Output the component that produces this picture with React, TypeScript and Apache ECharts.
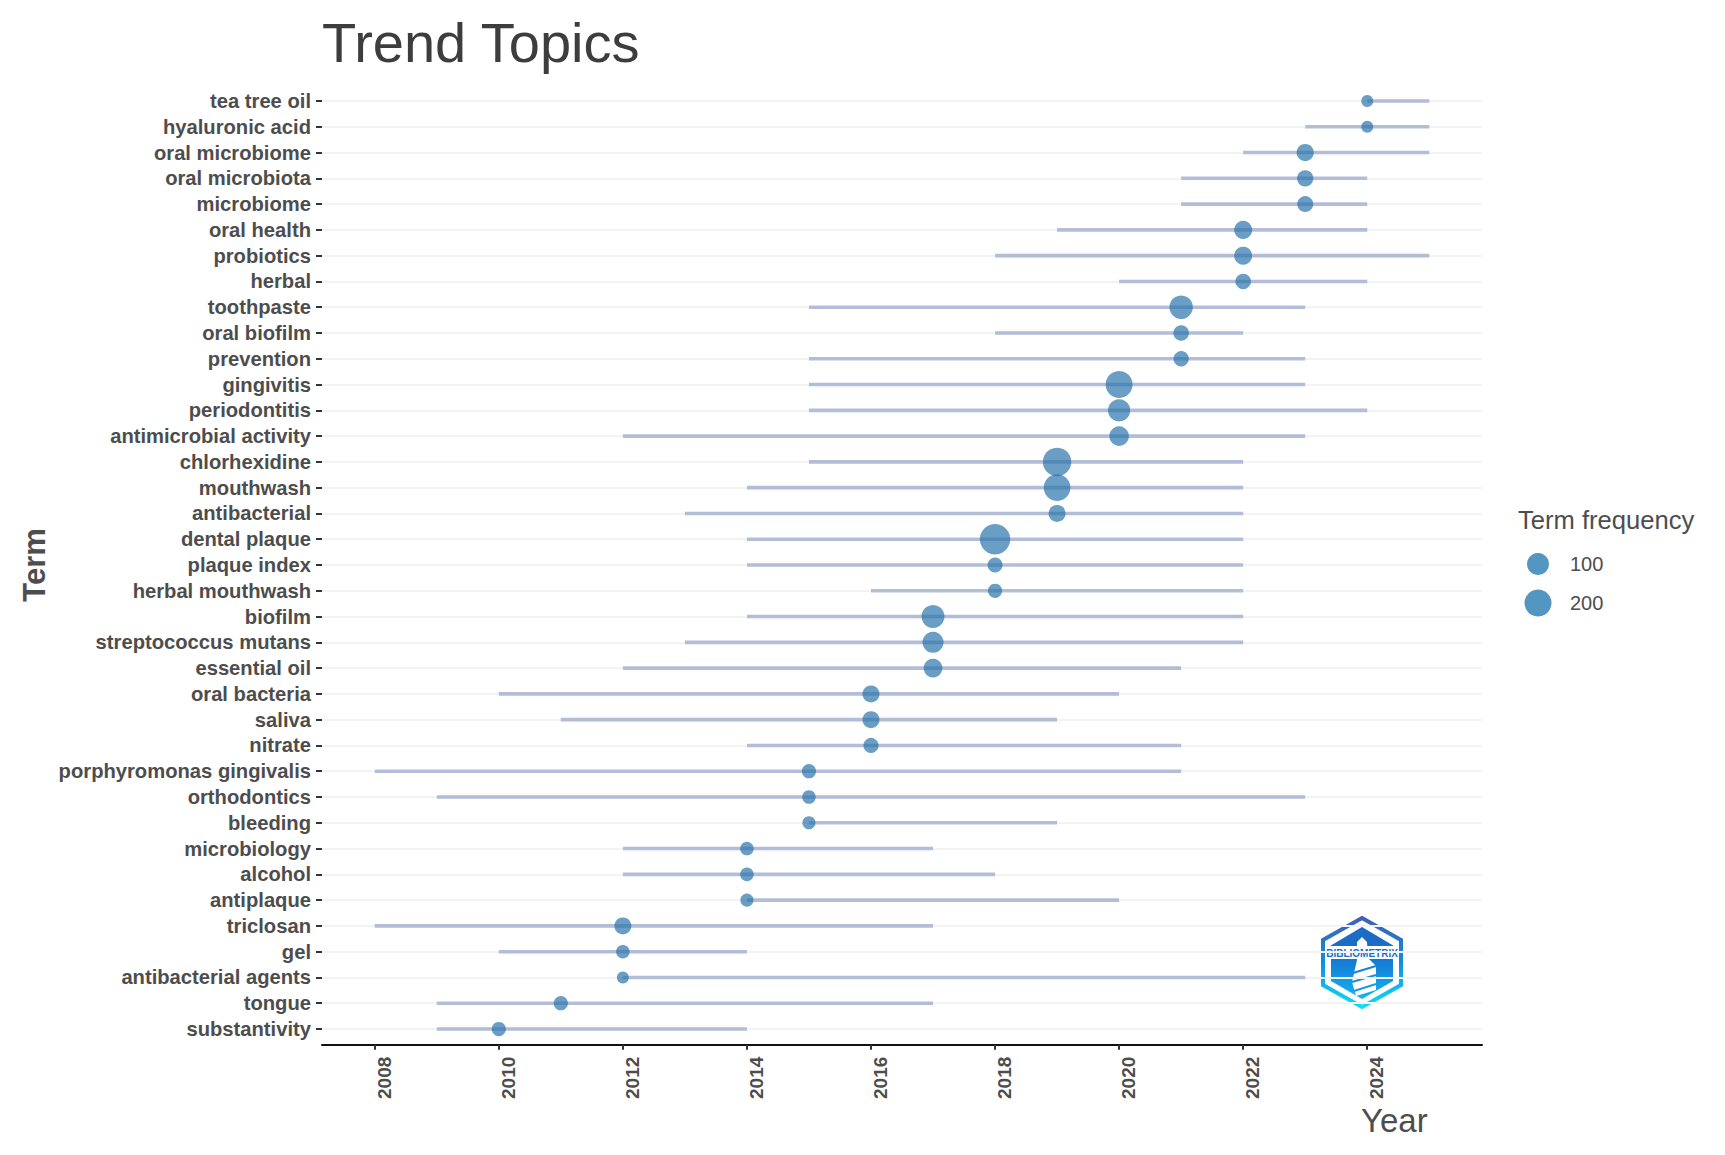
import React, { useEffect, useRef } from "react";
import * as echarts from "echarts";

const terms = ["tea tree oil","hyaluronic acid","oral microbiome","oral microbiota","microbiome","oral health","probiotics","herbal","toothpaste","oral biofilm","prevention","gingivitis","periodontitis","antimicrobial activity","chlorhexidine","mouthwash","antibacterial","dental plaque","plaque index","herbal mouthwash","biofilm","streptococcus mutans","essential oil","oral bacteria","saliva","nitrate","porphyromonas gingivalis","orthodontics","bleeding","microbiology","alcohol","antiplaque","triclosan","gel","antibacterial agents","tongue","substantivity"];
const yearStart = [2024,2023,2022,2021,2021,2019,2018,2020,2015,2018,2015,2015,2015,2012,2015,2014,2013,2014,2014,2016,2014,2013,2012,2010,2011,2014,2008,2009,2015,2012,2012,2014,2008,2010,2012,2009,2009];
const yearEnd = [2025,2025,2025,2024,2024,2024,2025,2024,2023,2022,2023,2023,2024,2023,2022,2022,2022,2022,2022,2022,2022,2022,2021,2020,2019,2021,2021,2023,2019,2017,2018,2020,2017,2014,2023,2017,2014];
const yearMedian = [2024,2024,2023,2023,2023,2022,2022,2022,2021,2021,2021,2020,2020,2020,2019,2019,2019,2018,2018,2018,2017,2017,2017,2016,2016,2016,2015,2015,2015,2014,2014,2014,2012,2012,2012,2011,2010];
const frequency = [20,20,42,35,33,49,49,30,126,30,29,200,105,66,238,195,40,294,27,24,117,85,57,40,40,28,24,22,21,22,22,21,40,22,20,24,24];
const yearTicks = [2008,2010,2012,2014,2016,2018,2020,2022,2024];
const legendValues = [100, 200];

const sizeOf = (f: number) => 12 + 18.5 * Math.sqrt(Math.max(0, f - 20) / 274);
const FONT = "'Liberation Sans', Arial, sans-serif";
const DOT = "rgba(38,114,170,0.86)";

const logo = [
  { type: "polygon", shape: { points: [[1362,918],[1401,940],[1401,985],[1362,1007],[1323,985],[1323,940]] },
    style: { fill: "#ffffff", lineWidth: 4, stroke: new echarts.graphic.LinearGradient(0,0,0,1,[{offset:0,color:"#3f5fb5"},{offset:0.5,color:"#0f8fe0"},{offset:1,color:"#0fdcf5"}]) } },
  { type: "polygon", shape: { points: [[1362,927],[1394,946],[1330,946]] }, style: { fill: "#1b6cc4" } },
  { type: "polygon", shape: { points: [[1331,959],[1393,959],[1393,981],[1362,999],[1331,981]] },
    style: { fill: new echarts.graphic.LinearGradient(0,0,0,1,[{offset:0,color:"#1478d4"},{offset:1,color:"#12b6f0"}]) } },
  { type: "polygon", shape: { points: [[1357,942],[1362,937],[1367,942],[1368,958],[1376,966],[1376,990],[1356,996],[1352,982],[1357,960]] }, style: { fill: "#ffffff" } },
  { type: "line", shape: { x1: 1353, y1: 973, x2: 1376, y2: 966 }, style: { stroke: "#1784d8", lineWidth: 2 } },
  { type: "line", shape: { x1: 1352, y1: 982, x2: 1376, y2: 975 }, style: { stroke: "#1790dc", lineWidth: 2 } },
  { type: "line", shape: { x1: 1354, y1: 991, x2: 1376, y2: 984 }, style: { stroke: "#159ce2", lineWidth: 2 } },
  { type: "text", x: 1362, y: 953, style: { text: "BIBLIOMETRIX", fontFamily: FONT, fontWeight: "bold", fontSize: 10, fill: "#1a6fc6", align: "center", verticalAlign: "middle" } },
];

export default function App() {
  const ref = useRef<HTMLDivElement>(null);
  useEffect(() => {
    document.body.style.margin = "0";
    const chart = echarts.init(ref.current!, undefined, { renderer: "svg" });
    chart.setOption({
      animation: false,
      backgroundColor: "#ffffff",
      title: {
        text: "Trend Topics", left: 317, top: 9,
        textStyle: { fontFamily: FONT, fontSize: 56, fontWeight: "normal", color: "#3d3d3d" },
      },
      grid: { left: 322, right: 243, top: 88.1, bottom: 113.1, containLabel: false },
      xAxis: {
        type: "value", position: "bottom", min: 2007.15, max: 2025.85, offset: 2.8,
        axisLine: { show: true, onZero: false, lineStyle: { color: "#111111", width: 2 } },
        axisTick: { show: true, customValues: yearTicks, length: 5, lineStyle: { color: "#333333", width: 2 } },
        axisLabel: { customValues: yearTicks, rotate: 90, margin: 12, verticalAlign: "top", formatter: (v: number) => String(v),
          fontFamily: FONT, fontWeight: "bold", fontSize: 19, color: "#4d4d4d", hideOverlap: false },
        splitLine: { show: false },
      },
      yAxis: {
        type: "category", inverse: true, data: terms,
        axisLine: { show: false },
        axisTick: { show: true, alignWithLabel: true, length: 6, interval: 0, lineStyle: { color: "#333333", width: 2 } },
        axisLabel: { interval: 0, margin: 11, padding: [4, 0, 0, 0], fontFamily: FONT, fontWeight: "bold", fontSize: 20.2, color: "#4d4d4d" },
        splitLine: { show: true, alignWithLabel: true, interval: 0, lineStyle: { color: "#f3f3f3", width: 2 } },
      },
      series: [
        {
          type: "custom", name: "Term range", coordinateSystem: "cartesian2d", z: 2,
          data: terms.map((_, i) => [i, yearStart[i], yearEnd[i]]),
          encode: { y: 0, x: [1, 2] },
          renderItem: (_p: any, api: any) => {
            const a = api.coord([api.value(1), api.value(0)]);
            const b = api.coord([api.value(2), api.value(0)]);
            return { type: "line", shape: { x1: a[0], y1: a[1], x2: b[0], y2: b[1] },
              style: { stroke: "#b3bdd8", lineWidth: 3.6, fill: "none" } };
          },
        },
        {
          type: "scatter", name: "Term frequency", z: 3,
          data: terms.map((_, i) => [yearMedian[i], i, frequency[i]]),
          symbolSize: (d: number[]) => sizeOf(d[2]),
          itemStyle: { color: DOT },
        },
      ],
      graphic: [
        { type: "text", x: 50, y: 565, rotation: Math.PI / 2, style: { text: "Term", fontFamily: FONT, fontWeight: "bold", fontSize: 31, fill: "#4d4d4d", align: "center", verticalAlign: "bottom" } },
        { type: "text", x: 1361, y: 1137, style: { text: "Year", fontFamily: FONT, fontSize: 33, fill: "#4d4d4d", align: "left", verticalAlign: "bottom" } },
        { type: "text", x: 1518, y: 533, style: { text: "Term frequency", fontFamily: FONT, fontSize: 25.6, fill: "#4d4d4d", align: "left", verticalAlign: "bottom" } },
        ...legendValues.map((v, i) => ({ type: "circle", shape: { cx: 1538, cy: [564, 603][i], r: sizeOf(v) / 2 }, style: { fill: "rgba(60,135,185,0.88)" } })),
        ...legendValues.map((v, i) => ({ type: "text", x: 1570, y: [564, 603][i], style: { text: String(v), fontFamily: FONT, fontSize: 20, fill: "#4d4d4d", align: "left", verticalAlign: "middle" } })),
        ...logo,
      ],
    });
    return () => chart.dispose();
  }, []);
  return <div ref={ref} style={{ position: "absolute", left: 0, top: 0, width: 1725, height: 1155 }} />;
}
